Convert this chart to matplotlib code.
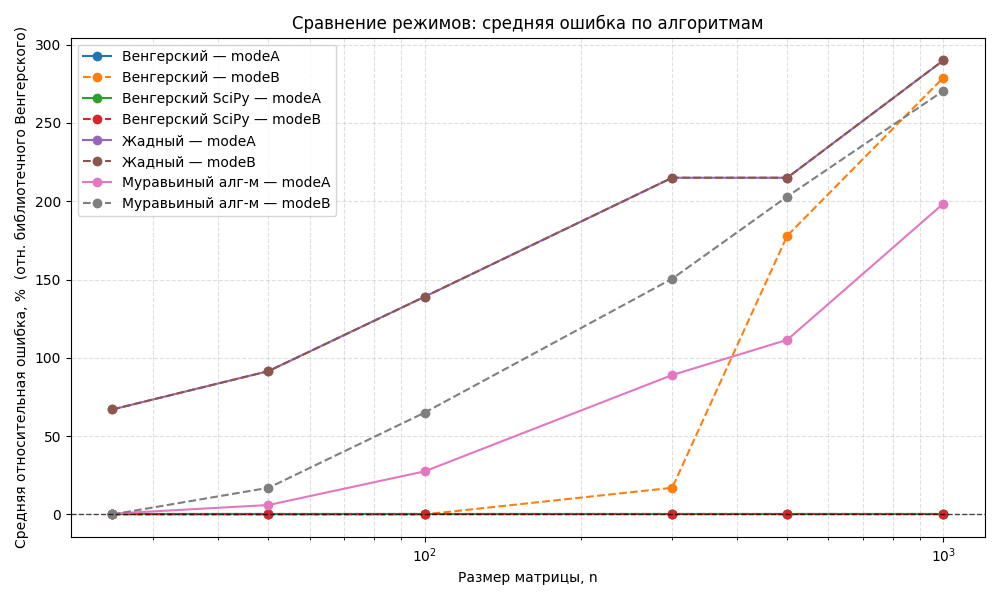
import numpy as np
import matplotlib
matplotlib.use("Agg")
import matplotlib.pyplot as plt

sizes = [25, 50, 100, 300, 500, 1000]

hung_a = [0, 0, 0, 0, 0, 0]
hung_b = [0, 0, 0, 17, 178, 279]
scipy_a = [0, 0, 0, 0, 0, 0]
scipy_b = [0, 0, 0, 0, 0, 0]
greedy_a = [67, 91.5, 139, 215, 215, 290]
greedy_b = [67, 91.5, 139, 215, 215, 290]
ant_a = [0.5, 6, 27.5, 89, 111.5, 198.5]
ant_b = [0, 17, 65, 150.5, 203, 270.5]

series = [
    ("Венгерский — modeA", hung_a, "-"),
    ("Венгерский — modeB", hung_b, "--"),
    ("Венгерский SciPy — modeA", scipy_a, "-"),
    ("Венгерский SciPy — modeB", scipy_b, "--"),
    ("Жадный — modeA", greedy_a, "-"),
    ("Жадный — modeB", greedy_b, "--"),
    ("Муравьиный алг-м — modeA", ant_a, "-"),
    ("Муравьиный алг-м — modeB", ant_b, "--"),
]

fig, ax = plt.subplots(figsize=(10, 6), dpi=100)

for label, vals, ls in series:
    ax.plot(sizes, vals, marker="o", linestyle=ls, label=label)

ax.axhline(0, color="black", linestyle="--", linewidth=1, alpha=0.7)
ax.set_xscale("log")
ax.grid(True, which="both", linestyle="--", alpha=0.4)
ax.set_xlabel("Размер матрицы, n")
ax.set_ylabel("Средняя относительная ошибка, %  (отн. библиотечного Венгерского)")
ax.set_title("Сравнение режимов: средняя ошибка по алгоритмам")
ax.legend(loc="upper left")

plt.tight_layout()
plt.savefig("out.png")
